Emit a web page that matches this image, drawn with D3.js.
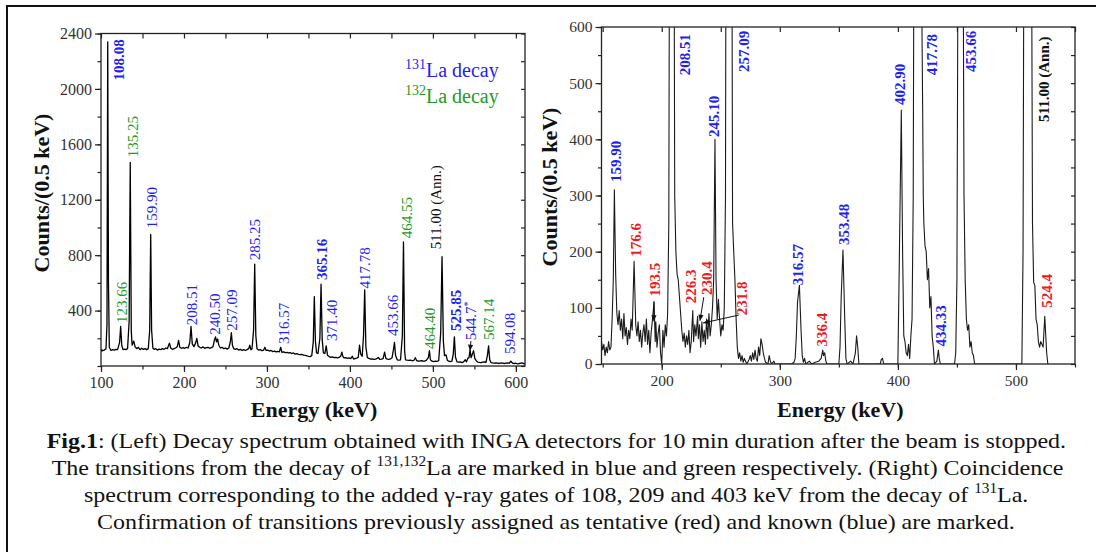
<!DOCTYPE html>
<html><head><meta charset="utf-8">
<script src="https://cdn.jsdelivr.net/npm/d3@7"></script>
<style>body{margin:0;background:#fff} svg{display:block} svg text{font-family:"Liberation Serif","Times New Roman",Times,serif;}</style>
</head><body><svg id="fig" width="1096" height="552"></svg>
<script>
// ---------- DATA ----------
const leftSpectrum = [[100,105],[101,118],[102,110],[104,115],[106,125],[107.2,300],[108.1,2340],[109,600],[110,135],[112,112],[114,118],[116,115],[118,120],[120,118],[122.4,170],[123.7,285],[125,150],[126.5,118],[128,122],[130,118],[132,125],[133.9,320],[135.25,1470],[136.5,250],[137.5,150],[139.5,180],[141,140],[143,125],[145,135],[147,118],[149,128],[151,120],[153,125],[155,118],[157,125],[158.7,260],[159.9,950],[161,260],[162.5,130],[164,120],[166,125],[168,115],[170,122],[172,118],[174,125],[176,120],[178,130],[180,125],[181.5,150],[182.5,165],[184,130],[186,120],[188,125],[190,130],[192,140],[193.5,185],[195,135],[197,128],[199,132],[201,128],[203,135],[205,130],[207,170],[208.5,285],[210,160],[212,140],[214,165],[215.5,200],[217,145],[219,135],[221,130],[223,138],[225,128],[227,132],[229,135],[231,128],[233,132],[235,140],[236.8,190],[238,210],[239.2,175],[240.5,195],[242,150],[244,130],[246,135],[248,125],[250,130],[252,122],[254,130],[255.9,175],[257.1,240],[258.4,150],[260,125],[262,120],[264,125],[266,115],[268,120],[270,112],[272,118],[274,112],[276,118],[278,125],[279.3,150],[280.6,118],[282,125],[283.9,260],[285.25,735],[286.6,220],[288,125],[290,115],[292,118],[294,110],[296,115],[297.5,135],[299,112],[301,115],[303,108],[305,112],[307,104],[309,108],[311,102],[313,106],[315,102],[316.6,135],[318,98],[320,102],[322,96],[324,98],[326,94],[328,96],[330,90],[332,94],[334,86],[336,90],[338,84],[340,82],[342,84],[344,78],[346,76],[348,74],[350,70],[352,68],[354,75],[355.8,170],[357.1,500],[358.4,180],[359.8,95],[361.5,90],[363.8,200],[365.2,590],[366.6,190],[368,95],[369.8,90],[371.4,145],[373,78],[375,68],[377,62],[379,66],[381,60],[383,62],[385,58],[387,62],[389,72],[390.3,100],[391.6,68],[393,58],[395,60],[397,55],[399,58],[401,54],[402.8,70],[404.4,50],[406,53],[408,56],[410,62],[411.6,150],[413,85],[414.8,70],[416.4,220],[417.8,550],[419.2,140],[421,60],[423,55],[425,50],[427,52],[429,48],[431,50],[432.8,55],[434.3,62],[436,48],[438,50],[440,54],[441.8,100],[443.3,55],[445,50],[447,48],[449,52],[450.8,60],[452.5,120],[453.7,170],[455,75],[457,45],[459,42],[461,45],[463.2,220],[464.55,895],[465.9,110],[467,45],[469,42],[471,40],[473,42],[475,38],[477,40],[478.8,60],[480.5,38],[482,36],[484,35],[486,38],[488,36],[490,35],[492,40],[494.5,60],[495.8,110],[497,45],[499,35],[501,32],[503,35],[505,33],[507,38],[509.4,240],[511,790],[512.6,180],[514,75],[515.8,80],[517.4,42],[519,35],[521,32],[523,35],[524.6,90],[525.9,210],[527.2,65],[529,30],[531,28],[533,30],[535,25],[537,30],[539,45],[540.5,30],[542,55],[543.5,60],[544.8,115],[546,60],[547.5,85],[549,110],[550.5,55],[552,40],[554,28],[556,26],[558,25],[560,28],[562,30],[564,26],[565.8,80],[567.1,145],[568.5,45],[570,25],[572,22],[574,20],[576,22],[578,20],[580,18],[582,22],[584,20],[586,18],[588,20],[590,22],[592,20],[594,35],[596,20],[598,18],[600,20],[602,15],[604,18],[606,20],[608,22],[610,15],[611,18]];

const rightSpectrum = [[149,40],[150,25],[151,35],[152,15],[153,30],[154,20],[155,40],[156,25],[157,30],[158,80],[159,150],[159.9,310],[161,160],[162,90],[163,70],[164,95],[165,60],[166,80],[167,45],[168,90],[169,50],[170,65],[171,35],[172,60],[173,45],[174,80],[175,60],[176.6,183],[178,70],[179,50],[180,75],[181,40],[182,60],[183,30],[184,55],[185,70],[186,40],[187,80],[188,35],[189,60],[190,20],[191,55],[192,75],[193.5,110],[194.5,40],[195,75],[196,30],[197,55],[198,70],[199,20],[200,0],[201,60],[202,30],[203,70],[204,50],[205,90],[206,250],[207,1200],[208.5,3000],[210,1200],[211,300],[212,200],[213,160],[214,150],[215,120],[216,90],[217,60],[218,40],[219,55],[220,30],[221,50],[222,35],[223,60],[224,20],[225,40],[226.3,95],[227,40],[228,70],[229,50],[230.4,85],[231,45],[232,70],[233,30],[234,75],[235,40],[236,60],[237,35],[238,80],[239,45],[240,90],[241,50],[242,70],[243,100],[244,150],[245.1,400],[246,150],[247,80],[248,115],[249,80],[250,50],[251,70],[252,60],[253,100],[254,300],[255,1500],[257.1,3000],[259,1200],[260,250],[261,200],[262,150],[263,80],[264,30],[265,10],[266,20],[267,5],[268,15],[269,3],[270,10],[272,0],[274,8],[275,15],[276,5],[277,20],[278,8],[279,25],[280,10],[281,5],[282,30],[283,15],[284,45],[285,35],[286,20],[287,10],[288,3],[290,0],[291,15],[292,5],[293,0],[295,5],[296,0],[310,0],[312,3],[313,10],[314,50],[315,110],[316.6,140],[318,60],[319,15],[320,3],[321,10],[322,0],[325,5],[327,0],[330,3],[333,5],[335,10],[336.4,25],[337,15],[338,20],[339,5],[340,0],[350,0],[351,30],[352,120],[353.5,203],[355,80],[356,10],[357,0],[360,5],[362,0],[364,20],[365,50],[366,30],[367,0],[385,0],[386,8],[387,10],[388,0],[400,0],[401,150],[402.9,452],[404,200],[405,50],[406,40],[407,20],[408,15],[409,35],[410,10],[411,50],[412,80],[413,300],[414.5,1500],[417.8,3000],[420,700],[421,450],[421.5,300],[422,250],[423,210],[424,200],[425,150],[426,170],[427,100],[428,120],[429,50],[430,30],[431,0],[433,5],[434.3,25],[435,10],[436,0],[448,0],[449,20],[450,150],[451,800],[453.7,3000],[455,900],[456,300],[457,150],[458,80],[459,60],[460,70],[461,30],[462,40],[463,20],[464,15],[465,0],[505,0],[506,200],[507,1000],[511,3000],[513,900],[514,250],[515,145],[516,140],[517,80],[518,70],[519,40],[520,30],[521,40],[522,35],[523,30],[524.4,85],[525,60],[526,20],[527,0]];

const leftXTicks = [100, 200, 300, 400, 500, 600];
const leftYTicks = [400, 800, 1200, 1600, 2000, 2400];
const rightXTicks = [200, 300, 400, 500];
const rightYTicks = [0, 100, 200, 300, 400, 500, 600];

// [text, energy anchor, counts anchor, group, superscript]
const leftLabels = [
  ["108.08", 121.7, 2061, "131b"], ["135.25", 138.6, 1506, "132"], ["159.90", 161.1, 995, "131"],
  ["123.66", 124.6, 310, "132"], ["208.51", 209.0, 295, "131"], ["240.50", 237.6, 225, "131"],
  ["257.09", 257.9, 255, "131"], ["285.25", 285.6, 764, "131"], ["316.57", 319.8, 159, "131"],
  ["365.16", 366.4, 620, "131b"], ["371.40", 378.1, 180, "131"], ["417.78", 417.9, 560, "131"],
  ["453.66", 451.2, 216, "131"], ["464.55", 468.7, 922, "132"], ["511.00 (Ann.)", 503.8, 843, "ann"],
  ["464.40", 496.5, 123, "132"], ["525.85", 527.9, 252, "131b"], ["544.7", 545.9, 185, "131", "*"],
  ["567.14", 567.6, 187, "132"], ["594.08", 593, 86, "131"]
];
const rightLabels = [
  ["208.51", 219.5, 514, "known"], ["257.09", 269.7, 520, "known"], ["245.10", 244.1, 404, "known"],
  ["159.90", 161.3, 324, "known"], ["402.90", 401.8, 461, "known"], ["417.78", 428.9, 514, "known"],
  ["453.66", 461.9, 520, "known"], ["511.00 (Ann.)", 523.3, 431, "annb"], ["176.6", 178.0, 191, "tent"],
  ["193.5", 194.3, 120, "tent"], ["226.3", 224.5, 108, "tent"], ["230.4", 238.1, 123, "tent"],
  ["231.8", 267.5, 87, "tent"], ["316.57", 315.4, 140, "known"], ["353.48", 354.4, 212, "known"],
  ["336.4", 335.7, 31, "tent"], ["434.33", 436.3, 31, "known"], ["524.4", 526.3, 100, "tent"]
];
// arrows: [fromE, fromC, toE, toC]
const leftArrows = [[545.8, 180, 544.7, 110]];
const rightArrows = [[193.4, 112, 193.4, 76], [235.6, 119, 232.4, 77], [265.1, 87, 235.0, 73]];
const legendItems = [["131", "La decay", "131"], ["132", "La decay", "132"]];
const captionLines = [
  [["Fig.1", "b"], [": (Left) Decay spectrum obtained with INGA detectors for 10 min duration after the beam is stopped.", ""]],
  [["The transitions from the decay of ", ""], ["131,132", "sup"], ["La are marked in blue and green respectively. (Right) Coincidence", ""]],
  [["spectrum corresponding to the added \u03b3-ray gates of 108, 209 and 403 keV from the decay of ", ""], ["131", "sup"], ["La.", ""]],
  [["Confirmation of transitions previously assigned as tentative (red) and known (blue) are marked.", ""]]
];

// ---------- STYLE ----------
const BLUE = "#1f1ff0", GREEN = "#249a24", RED = "#ee1c1c", INK = "#111";
const groupStyle = {
  "131": [BLUE, "normal"], "131b": [BLUE, "bold"], "132": [GREEN, "normal"], "ann": [INK, "normal"],
  "known": [BLUE, "bold"], "tent": [RED, "bold"], "annb": [INK, "bold"]
};

const svg = d3.select("#fig");
svg.append("rect").attr("width", 1096).attr("height", 552).attr("fill", "#fff");
svg.append("path").attr("d", "M7,560 V6 H1100").attr("fill", "none").attr("stroke", "#111").attr("stroke-width", 2);

function panel(cfg) {
  const x = d3.scaleLinear().domain(cfg.xDomain).range(cfg.xRange);
  const y = d3.scaleLinear().domain(cfg.yDomain).range(cfg.yRange);
  const g = svg.append("g");
  const clipId = cfg.id + "-clip";
  g.append("clipPath").attr("id", clipId).append("rect")
    .attr("x", cfg.xRange[0]).attr("y", cfg.yRange[1])
    .attr("width", cfg.xRange[1] - cfg.xRange[0]).attr("height", cfg.yRange[0] - cfg.yRange[1]);

  const line = d3.line().x(d => x(d[0])).y(d => y(d[1]));
  g.append("path").datum(cfg.data).attr("clip-path", `url(#${clipId})`)
    .attr("d", line).attr("fill", "none").attr("stroke", cfg.lineColor).attr("stroke-width", cfg.lineWidth)
    .attr("stroke-linejoin", "round");

  const styleAxis = sel => {
    sel.select(".domain").remove();
    sel.attr("font-family", null);
    sel.selectAll("line").attr("stroke", "#222").attr("stroke-width", 1.2);
    sel.selectAll("text").attr("font-size", cfg.tickFont).attr("fill", "#333");
  };
  const [x0, x1] = cfg.xRange, [yb, yt] = cfg.yRange;
  const minorX = d3.range(Math.ceil(cfg.xDomain[0] / 50) * 50, cfg.xDomain[1] + 0.01, 50);
  const minorY = d3.range(0, cfg.yDomain[1] + 0.01, cfg.yMinor);

  g.append("g").attr("transform", `translate(0,${yb})`)
    .call(d3.axisBottom(x).tickValues(cfg.xTicks).tickSize(6).tickPadding(5).tickFormat(d3.format("d"))).call(styleAxis);
  g.append("g").attr("transform", `translate(0,${yb})`)
    .call(d3.axisBottom(x).tickValues(minorX).tickSize(3.5).tickFormat("")).call(styleAxis);
  g.append("g").attr("transform", `translate(${x0},0)`)
    .call(d3.axisLeft(y).tickValues(cfg.yTicks).tickSize(6).tickPadding(3).tickFormat(d3.format("d"))).call(styleAxis);
  g.append("g").attr("transform", `translate(${x0},0)`)
    .call(d3.axisLeft(y).tickValues(minorY).tickSize(3.5).tickFormat("")).call(styleAxis);
  g.append("g").attr("transform", `translate(0,${yt})`)
    .call(d3.axisTop(x).tickValues(minorX).tickSize(-5).tickFormat("")).call(styleAxis);
  g.append("g").attr("transform", `translate(${x1},0)`)
    .call(d3.axisRight(y).tickValues(minorY).tickSize(-4).tickFormat("")).call(styleAxis);

  g.append("rect").attr("x", x0).attr("y", yt).attr("width", x1 - x0).attr("height", yb - yt)
    .attr("fill", "none").attr("stroke", "#222").attr("stroke-width", 1.3);

  cfg.labels.forEach(l => {
    const [col, wt] = groupStyle[l[3]];
    const t = g.append("text").attr("transform", `translate(${x(l[1])},${y(l[2])}) rotate(-90)`)
      .attr("dy", "0.35em").attr("font-size", 15).attr("font-weight", wt)
      .attr("fill", col).text(l[0]);
    if (l[4]) t.append("tspan").attr("font-size", 10).attr("dy", "-0.5em").text(l[4]);
  });
  cfg.arrows.forEach(a => {
    const xa = x(a[0]), ya = y(a[1]), xb = x(a[2]), yb2 = y(a[3]);
    g.append("line").attr("x1", xa).attr("y1", ya).attr("x2", xb).attr("y2", yb2)
      .attr("stroke", "#111").attr("stroke-width", 1);
    const ang = Math.atan2(yb2 - ya, xb - xa);
    const L = 6, W = 2.6;
    const p = [[xb, yb2],
      [xb - L * Math.cos(ang) + W * Math.sin(ang), yb2 - L * Math.sin(ang) - W * Math.cos(ang)],
      [xb - L * Math.cos(ang) - W * Math.sin(ang), yb2 - L * Math.sin(ang) + W * Math.cos(ang)]];
    g.append("path").attr("d", "M" + p.join("L") + "Z").attr("fill", "#111");
  });

  g.append("text").attr("x", (x0 + x1) / 2 + cfg.xTitleShift).attr("y", 417).attr("text-anchor", "middle")
    .attr("font-size", 22).attr("font-weight", "bold").attr("fill", "#111")
    .text("Energy (keV)");
  g.append("text").attr("transform", `translate(${cfg.yTitleX},${cfg.yTitleY}) rotate(-90)`)
    .attr("text-anchor", "middle").attr("dy", "0.35em")
    .attr("font-size", 22).attr("font-weight", "bold").attr("fill", "#111")
    .text("Counts/(0.5 keV)");
  return { g, x, y };
}

const L = panel({
  id: "left", data: leftSpectrum, xDomain: [100, 611], xRange: [101, 525], yDomain: [0, 2400], yRange: [366, 33.5],
  xTicks: leftXTicks, yTicks: leftYTicks, yMinor: 200, labels: leftLabels, arrows: leftArrows, tickFont: 16,
  lineColor: "#000", lineWidth: 1.3, xTitleShift: 1, yTitleX: 41, yTitleY: 193
});
const R = panel({
  id: "right", data: rightSpectrum, xDomain: [149, 550], xRange: [601.5, 1075], yDomain: [0, 600], yRange: [364, 27],
  xTicks: rightXTicks, yTicks: rightYTicks, yMinor: 50, labels: rightLabels, arrows: rightArrows, tickFont: 15.5,
  lineColor: "#1a1a1a", lineWidth: 1.1, xTitleShift: 2, yTitleX: 549, yTitleY: 187
});

legendItems.forEach((it, i) => {
  const t = L.g.append("text").attr("x", 405).attr("y", 77 + i * 26)
    .attr("font-size", 20).attr("fill", groupStyle[it[2]][0]);
  t.append("tspan").attr("font-size", 14).attr("dy", -8).text(it[0]);
  t.append("tspan").attr("dy", 8).text(it[1]);
});

const capExtents = [[46.7, 1066], [51.7, 1064], [84, 1029], [97, 1015]];
captionLines.forEach((parts, i) => {
  const t = svg.append("text").attr("font-size", 22).attr("fill", "#111");
  let raised = false;
  parts.forEach(p => {
    const s = t.append("tspan").text(p[0]);
    if (p[1] === "b") s.attr("font-weight", "bold");
    if (p[1] === "sup") { s.attr("font-size", 14).attr("dy", -9); raised = true; }
    else if (raised) { s.attr("dy", 9); raised = false; }
  });
  const w = t.node().getComputedTextLength();
  const [a, b] = capExtents[i];
  t.attr("transform", `translate(${a},${448 + i * 27}) scale(${(b - a) / w},1)`);
});
</script></body></html>
